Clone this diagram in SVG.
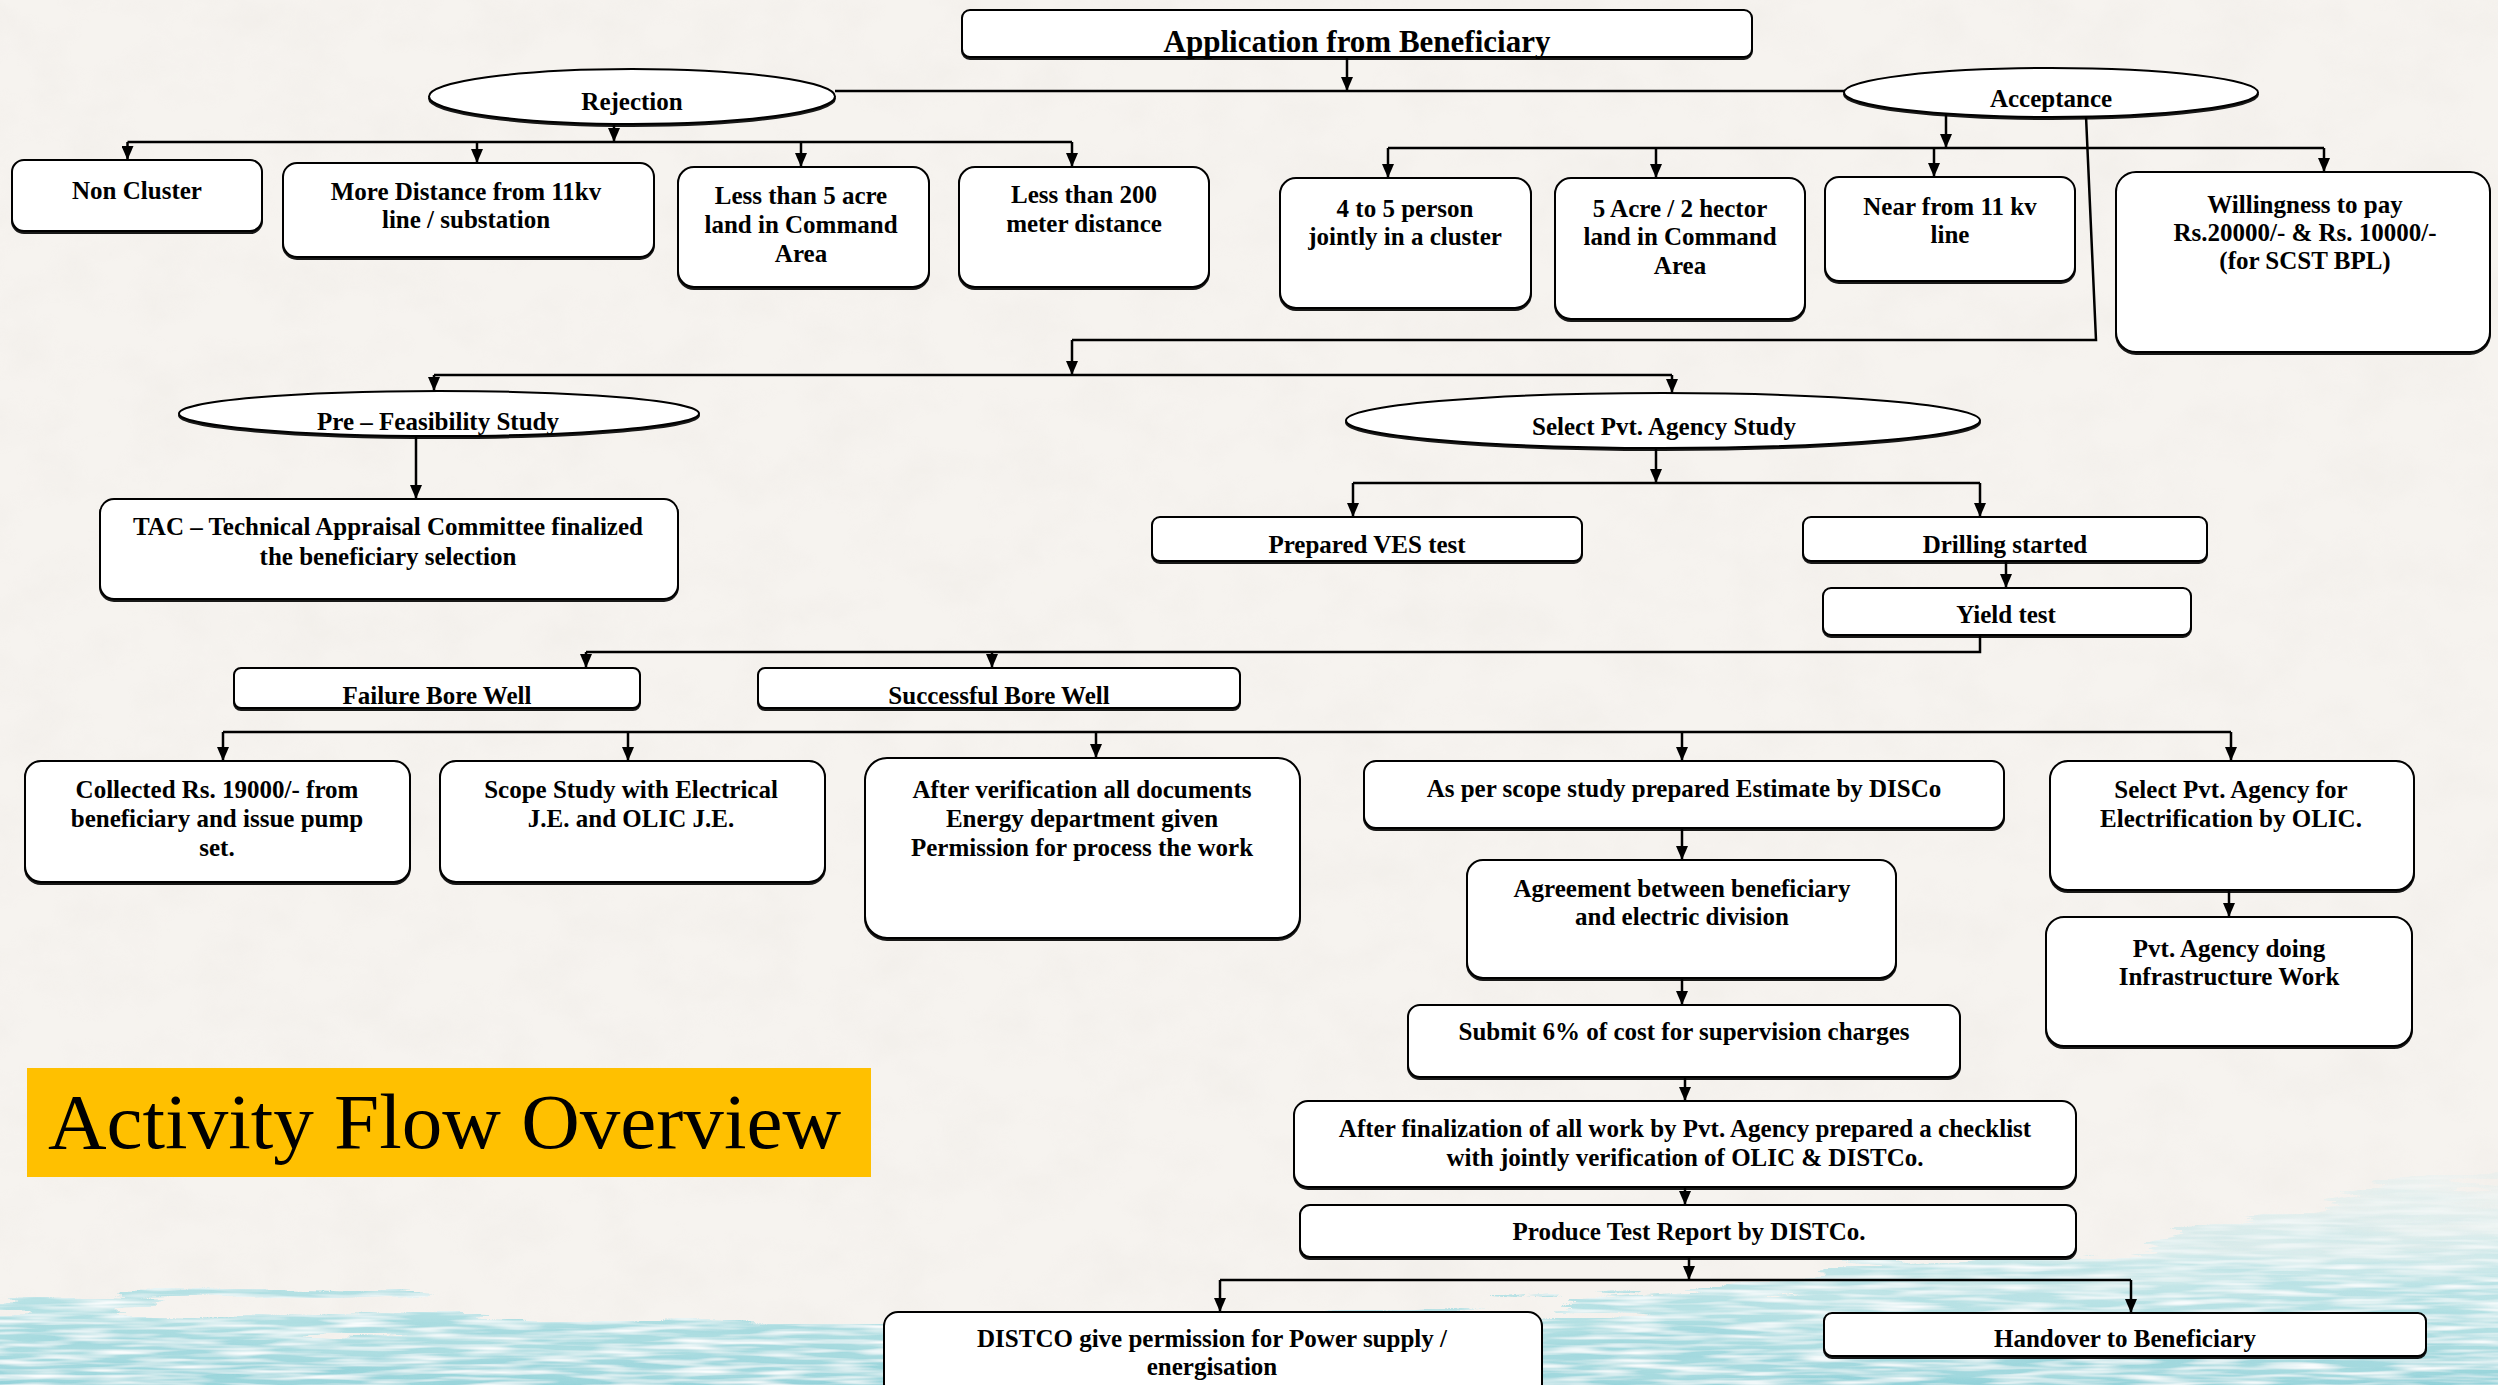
<svg xmlns="http://www.w3.org/2000/svg" width="2498" height="1385" viewBox="0 0 2498 1385">
  <style>
    .box { fill: #ffffff; stroke: #000000; stroke-width: 2; filter: url(#shadow); }
    .oval { fill: #ffffff; stroke: #000000; stroke-width: 2; filter: url(#shadow); }
    .t { font-family: "Liberation Serif", "Times New Roman", serif; font-weight: bold; font-size: 25px; text-anchor: middle; fill: #000000; }
    .big { font-size: 31px; }
    .wire { fill: none; stroke: #000000; stroke-width: 2.5; }
    .arr { fill: none; stroke: #000000; stroke-width: 2.5; marker-end: url(#head); }
  </style>
  <defs>
    <marker id="head" markerUnits="userSpaceOnUse" markerWidth="14" markerHeight="12" refX="14" refY="6" orient="auto">
      <path d="M0,0 L14,6 L0,12 z" fill="#000000"/>
    </marker>
    <filter id="shadow" x="-5%" y="-5%" width="110%" height="120%">
      <feDropShadow dx="0" dy="2" stdDeviation="0.6" flood-color="#000000" flood-opacity="0.9"/>
    </filter>
    <filter id="paper" x="0" y="0" width="100%" height="100%">
      <feTurbulence type="fractalNoise" baseFrequency="0.015 0.02" numOctaves="4" seed="7" result="n"/>
      <feColorMatrix in="n" type="matrix" values="0 0 0 0 0.80  0 0 0 0 0.77  0 0 0 0 0.73  0 0 0 -1.4 0.85"/>
    </filter>
    <filter id="wash" x="-5%" y="-30%" width="110%" height="160%">
      <feTurbulence type="fractalNoise" baseFrequency="0.004 0.05" numOctaves="4" seed="3" result="n"/>
      <feDisplacementMap in="SourceGraphic" in2="n" scale="90" xChannelSelector="R" yChannelSelector="G" result="d"/>
      <feTurbulence type="fractalNoise" baseFrequency="0.015 0.2" numOctaves="2" seed="11" result="s"/>
      <feColorMatrix in="s" type="matrix" values="0 0 0 0 1  0 0 0 0 1  0 0 0 0 1  0 0 0 -2.4 1.45" result="streak"/>
      <feComposite in="streak" in2="d" operator="in" result="sw"/>
      <feMerge><feMergeNode in="d"/><feMergeNode in="sw"/></feMerge>
    </filter>
    <linearGradient id="teal" x1="0" y1="0" x2="0" y2="1">
      <stop offset="0" stop-color="#d6eef0" stop-opacity="0.2"/>
      <stop offset="0.45" stop-color="#b3e1e5" stop-opacity="0.85"/>
      <stop offset="1" stop-color="#8ccfd7"/>
    </linearGradient>
  </defs>

  <!-- paper background with a watercolour band along the bottom -->
  <rect x="0" y="0" width="2498" height="1385" fill="#f6f3ef"/>
  <rect x="0" y="0" width="2498" height="1385" filter="url(#paper)" opacity="0.3"/>
  <path d="M-40,1420 L-40,1305 C 250,1300 600,1335 1000,1328 C 1400,1320 1800,1290 2100,1245 C 2300,1212 2420,1190 2540,1180 L2540,1420 Z" fill="url(#teal)" filter="url(#wash)"/>

  <!-- title banner -->
  <g id="title">
    <rect x="27" y="1068" width="844" height="109" fill="#ffc000"/>
    <text x="48" y="1148" font-family="Liberation Serif, Times New Roman, serif" font-size="78" textLength="793" lengthAdjust="spacingAndGlyphs" fill="#000000">Activity Flow Overview</text>
  </g>

  <!-- connectors -->
  <g id="connectors">
    <path class="arr" d="M1347,57 V91"/>
    <path class="wire" d="M835,91 H1845"/>
    <path class="arr" d="M614,124 V142"/>
    <path class="wire" d="M127.5,142 H1072"/>
    <path class="arr" d="M127.5,142 V160"/>
    <path class="arr" d="M477,142 V163"/>
    <path class="arr" d="M801,142 V167"/>
    <path class="arr" d="M1072,142 V167"/>

    <path class="arr" d="M1946,112 V148"/>
    <path class="wire" d="M1388,148 H2324"/>
    <path class="arr" d="M1388,148 V178"/>
    <path class="arr" d="M1656,148 V178"/>
    <path class="arr" d="M1934,148 V177"/>
    <path class="arr" d="M2324,148 V172"/>

    <path class="wire" d="M2086,116 L2096,340 H1072"/>
    <path class="arr" d="M1072,340 V375"/>
    <path class="wire" d="M434,375 H1672"/>
    <path class="arr" d="M434,375 V391"/>
    <path class="arr" d="M1672,375 V393"/>

    <path class="arr" d="M416,436 V499"/>

    <path class="arr" d="M1656,448 V483"/>
    <path class="wire" d="M1353,483 H1980"/>
    <path class="arr" d="M1353,483 V517"/>
    <path class="arr" d="M1980,483 V517"/>
    <path class="arr" d="M2006,561 V588"/>

    <path class="wire" d="M1980,635 V652 H586"/>
    <path class="arr" d="M586,652 V668"/>
    <path class="arr" d="M992,652 V668"/>

    <path class="wire" d="M223,732 H2231"/>
    <path class="arr" d="M223,732 V761"/>
    <path class="arr" d="M628,732 V761"/>
    <path class="arr" d="M1096,732 V758"/>
    <path class="arr" d="M1682,732 V761"/>
    <path class="arr" d="M2231,732 V761"/>

    <path class="arr" d="M1682,828 V860"/>
    <path class="arr" d="M1682,978 V1005"/>
    <path class="arr" d="M1685,1077 V1101"/>
    <path class="arr" d="M1685,1187 V1205"/>
    <path class="arr" d="M2229,890 V917"/>

    <path class="arr" d="M1689,1257 V1280"/>
    <path class="wire" d="M1220,1280 H2131"/>
    <path class="arr" d="M1220,1280 V1312"/>
    <path class="arr" d="M2131,1280 V1313"/>
  </g>

  <!-- nodes -->
  <g id="n-application">
    <rect class="box" x="962" y="10" width="790" height="47" rx="8"/>
    <text class="t big" x="1357" y="52">Application from Beneficiary</text>
  </g>
  <g id="n-rejection">
    <ellipse class="oval" cx="632" cy="96.5" rx="203" ry="27.5"/>
    <text class="t" x="632" y="110">Rejection</text>
  </g>
  <g id="n-acceptance">
    <ellipse class="oval" cx="2051" cy="92.5" rx="207" ry="24.5"/>
    <text class="t" x="2051" y="107">Acceptance</text>
  </g>

  <g id="n-noncluster">
    <rect class="box" x="12" y="160" width="250" height="71" rx="12"/>
    <text class="t" x="137" y="199">Non Cluster</text>
  </g>
  <g id="n-moredistance">
    <rect class="box" x="283" y="163" width="371" height="94" rx="14"/>
    <text class="t" x="466" y="200">More Distance from 11kv</text>
    <text class="t" x="466" y="228">line / substation</text>
  </g>
  <g id="n-lessacre">
    <rect class="box" x="678" y="167" width="251" height="120" rx="16"/>
    <text class="t" x="801" y="204">Less than 5 acre</text>
    <text class="t" x="801" y="233">land in Command</text>
    <text class="t" x="801" y="262">Area</text>
  </g>
  <g id="n-less200">
    <rect class="box" x="959" y="167" width="250" height="120" rx="16"/>
    <text class="t" x="1084" y="203">Less than 200</text>
    <text class="t" x="1084" y="232">meter distance</text>
  </g>

  <g id="n-cluster">
    <rect class="box" x="1280" y="178" width="251" height="130" rx="16"/>
    <text class="t" x="1405" y="217">4 to 5 person</text>
    <text class="t" x="1405" y="245">jointly in a cluster</text>
  </g>
  <g id="n-fiveacre">
    <rect class="box" x="1555" y="178" width="250" height="141" rx="16"/>
    <text class="t" x="1680" y="217">5 Acre / 2 hector</text>
    <text class="t" x="1680" y="245">land in Command</text>
    <text class="t" x="1680" y="274">Area</text>
  </g>
  <g id="n-near11kv">
    <rect class="box" x="1825" y="177" width="250" height="104" rx="14"/>
    <text class="t" x="1950" y="215">Near from 11 kv</text>
    <text class="t" x="1950" y="243">line</text>
  </g>
  <g id="n-willingness">
    <rect class="box" x="2116" y="172" width="374" height="180" rx="20"/>
    <text class="t" x="2305" y="213">Willingness to pay</text>
    <text class="t" x="2305" y="241">Rs.20000/- &amp; Rs. 10000/-</text>
    <text class="t" x="2305" y="269">(for SCST BPL)</text>
  </g>

  <g id="n-prefeasibility">
    <ellipse class="oval" cx="439" cy="413.5" rx="260" ry="22.5"/>
    <text class="t" x="438" y="430">Pre – Feasibility Study</text>
  </g>
  <g id="n-tac">
    <rect class="box" x="100" y="499" width="578" height="100" rx="14"/>
    <text class="t" x="388" y="535">TAC – Technical Appraisal Committee finalized</text>
    <text class="t" x="388" y="565">the beneficiary selection</text>
  </g>

  <g id="n-selectagency">
    <ellipse class="oval" cx="1663" cy="420.5" rx="317" ry="27.5"/>
    <text class="t" x="1664" y="435">Select Pvt. Agency Study</text>
  </g>
  <g id="n-ves">
    <rect class="box" x="1152" y="517" width="430" height="44" rx="8"/>
    <text class="t" x="1367" y="553">Prepared VES test</text>
  </g>
  <g id="n-drilling">
    <rect class="box" x="1803" y="517" width="404" height="44" rx="8"/>
    <text class="t" x="2005" y="553">Drilling started</text>
  </g>
  <g id="n-yield">
    <rect class="box" x="1823" y="588" width="368" height="47" rx="8"/>
    <text class="t" x="2006" y="623">Yield test</text>
  </g>

  <g id="n-failure">
    <rect class="box" x="234" y="668" width="406" height="40" rx="7"/>
    <text class="t" x="437" y="704">Failure Bore Well</text>
  </g>
  <g id="n-success">
    <rect class="box" x="758" y="668" width="482" height="40" rx="7"/>
    <text class="t" x="999" y="704">Successful Bore Well</text>
  </g>

  <g id="n-collected">
    <rect class="box" x="25" y="761" width="385" height="121" rx="16"/>
    <text class="t" x="217" y="798">Collected Rs. 19000/- from</text>
    <text class="t" x="217" y="827">beneficiary and issue pump</text>
    <text class="t" x="217" y="856">set.</text>
  </g>
  <g id="n-scope">
    <rect class="box" x="440" y="761" width="385" height="121" rx="16"/>
    <text class="t" x="631" y="798">Scope Study with Electrical</text>
    <text class="t" x="631" y="827">J.E. and OLIC J.E.</text>
  </g>
  <g id="n-verification">
    <rect class="box" x="865" y="758" width="435" height="180" rx="22"/>
    <text class="t" x="1082" y="798">After verification all documents</text>
    <text class="t" x="1082" y="827">Energy department given</text>
    <text class="t" x="1082" y="856">Permission for process the work</text>
  </g>
  <g id="n-estimate">
    <rect class="box" x="1364" y="761" width="640" height="67" rx="12"/>
    <text class="t" x="1684" y="797">As per scope study prepared Estimate by DISCo</text>
  </g>
  <g id="n-agreement">
    <rect class="box" x="1467" y="860" width="429" height="118" rx="16"/>
    <text class="t" x="1682" y="897">Agreement between beneficiary</text>
    <text class="t" x="1682" y="925">and electric division</text>
  </g>
  <g id="n-supervision">
    <rect class="box" x="1408" y="1005" width="552" height="72" rx="12"/>
    <text class="t" x="1684" y="1040">Submit 6% of cost for supervision charges</text>
  </g>
  <g id="n-electrification">
    <rect class="box" x="2050" y="761" width="364" height="129" rx="18"/>
    <text class="t" x="2231" y="798">Select Pvt. Agency for</text>
    <text class="t" x="2231" y="827">Electrification by OLIC.</text>
  </g>
  <g id="n-infrastructure">
    <rect class="box" x="2046" y="917" width="366" height="129" rx="18"/>
    <text class="t" x="2229" y="957">Pvt. Agency doing</text>
    <text class="t" x="2229" y="985">Infrastructure Work</text>
  </g>
  <g id="n-checklist">
    <rect class="box" x="1294" y="1101" width="782" height="86" rx="14"/>
    <text class="t" x="1685" y="1137">After finalization of all work by Pvt. Agency prepared a checklist</text>
    <text class="t" x="1685" y="1166">with jointly verification of OLIC &amp; DISTCo.</text>
  </g>
  <g id="n-testreport">
    <rect class="box" x="1300" y="1205" width="776" height="52" rx="10"/>
    <text class="t" x="1689" y="1240">Produce Test Report by DISTCo.</text>
  </g>
  <g id="n-permission">
    <rect class="box" x="884" y="1312" width="658" height="86" rx="14"/>
    <text class="t" x="1212" y="1347">DISTCO give permission for Power supply /</text>
    <text class="t" x="1212" y="1375">energisation</text>
  </g>
  <g id="n-handover">
    <rect class="box" x="1824" y="1313" width="602" height="43" rx="8"/>
    <text class="t" x="2125" y="1347">Handover to Beneficiary</text>
  </g>
</svg>
